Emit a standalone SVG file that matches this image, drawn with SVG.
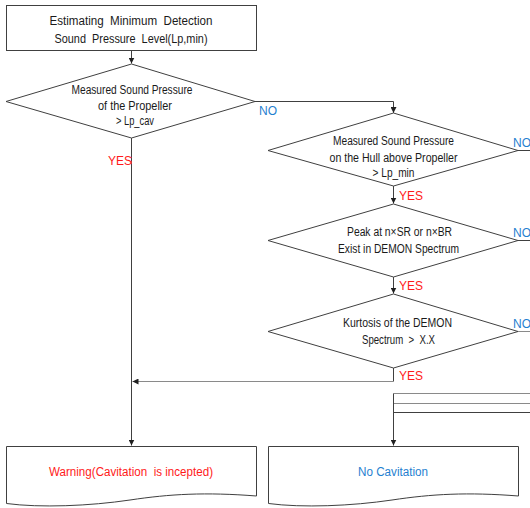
<svg xmlns="http://www.w3.org/2000/svg" width="530" height="508" viewBox="0 0 530 508">
<style>
.shape{fill:#fff;stroke:#404040;stroke-width:1}
.t{font-family:"Liberation Sans",Arial,sans-serif;font-size:12.5px;fill:#1a1a1a;text-anchor:middle;white-space:pre}
.lbl{font-family:"Liberation Sans",Arial,sans-serif;font-size:12px}
.no{fill:#1f7fd0}
.yes{fill:#ff1a1a}
.c{fill:none;stroke:#404040;stroke-width:1}
.cg{fill:none;stroke:#8a8a8a;stroke-width:1}
</style>
<defs>
<marker id="ah" markerUnits="userSpaceOnUse" markerWidth="7" markerHeight="6" refX="6" refY="3" orient="auto">
<path d="M0,0 L6,3 L0,6 Z" fill="#202020"/>
</marker>
</defs>
<g id="connectors">
<path class="c" d="M131.5,51 V63.5" marker-end="url(#ah)"/>
<path class="c" d="M255,101.5 H393.5 V113" marker-end="url(#ah)"/>
<path class="c" d="M131.5,138 V445.5" marker-end="url(#ah)"/>
<path class="c" d="M393.5,186 V203.5" marker-end="url(#ah)"/>
<path class="c" d="M393.5,277 V293.5" marker-end="url(#ah)"/>
<path class="c" d="M393.5,368 V381.5"/>
<path class="cg" d="M393.5,381.5 H132.5" marker-end="url(#ah)"/>
<path class="c" d="M518,150.5 H530"/>
<path class="c" d="M518,240.5 H530"/>
<path class="cg" d="M518,331.5 H530"/>
<path class="cg" d="M530,393.5 H393.5"/>
<path class="cg" d="M393.5,403.5 H530"/>
<path class="c" d="M393.5,412.5 H530"/>
<path class="c" d="M393.5,393.5 V445.5" marker-end="url(#ah)"/>
<text class="lbl no" x="259" y="115">NO</text>
<text class="lbl no" x="513" y="147">NO</text>
<text class="lbl no" x="513" y="237">NO</text>
<text class="lbl no" x="513" y="328">NO</text>
<text class="lbl yes" x="108" y="165">YES</text>
<text class="lbl yes" x="399" y="200">YES</text>
<text class="lbl yes" x="399" y="290">YES</text>
<text class="lbl yes" x="399" y="380">YES</text>
</g>
<g id="start">
<rect class="shape" x="6.5" y="5.5" width="250" height="45"/>
<text class="t" x="131" y="25" font-size="13.5" textLength="163" lengthAdjust="spacingAndGlyphs">Estimating  Minimum  Detection</text>
<text class="t" x="131" y="43" font-size="13.5" textLength="153" lengthAdjust="spacingAndGlyphs">Sound  Pressure  Level(Lp,min)</text>
</g>
<g id="d1">
<polygon class="shape" points="131.5,64 255,101.5 131.5,138 6,101.5"/>
<text class="t" x="132" y="94" textLength="121" lengthAdjust="spacingAndGlyphs">Measured Sound Pressure</text>
<text class="t" x="135" y="110" textLength="74" lengthAdjust="spacingAndGlyphs">of the Propeller</text>
<text class="t" x="135" y="125" textLength="38" lengthAdjust="spacingAndGlyphs">&gt; Lp_cav</text>
</g>
<g id="d2">
<polygon class="shape" points="393.5,113 518,150.5 393.5,186 268,150.5"/>
<text class="t" x="393.5" y="145" textLength="121" lengthAdjust="spacingAndGlyphs">Measured Sound Pressure</text>
<text class="t" x="393.5" y="162" textLength="128" lengthAdjust="spacingAndGlyphs">on the Hull above Propeller</text>
<text class="t" x="393.5" y="177" textLength="42" lengthAdjust="spacingAndGlyphs">&gt; Lp_min</text>
</g>
<g id="d3">
<polygon class="shape" points="393.5,204 518,240.5 393.5,277 268,240.5"/>
<text class="t" x="399.5" y="236" textLength="105" lengthAdjust="spacingAndGlyphs">Peak at n×SR or n×BR</text>
<text class="t" x="398.5" y="253" textLength="121" lengthAdjust="spacingAndGlyphs">Exist in DEMON Spectrum</text>
</g>
<g id="d4">
<polygon class="shape" points="393.5,294 518,331.5 393.5,368 268,331.5"/>
<text class="t" x="397.5" y="327" textLength="109" lengthAdjust="spacingAndGlyphs">Kurtosis of the DEMON</text>
<text class="t" x="398.5" y="344" textLength="73" lengthAdjust="spacingAndGlyphs">Spectrum  &gt;  X.X</text>
</g>
<g id="warning">
<path class="shape" d="M6.5,446.5 H256.5 V496 C205,492 170,494 130,500 C90,506 40,508 6.5,503.5 Z"/>
<text class="t yes" x="131" y="476" font-size="14" textLength="164" lengthAdjust="spacingAndGlyphs">Warning(Cavitation  is incepted)</text>
</g>
<g id="nocav">
<path class="shape" d="M268.5,446.5 H518.5 V496 C467,492 432,494 392,500 C352,506 302,508 268.5,503.5 Z"/>
<text class="t no" x="393" y="476" font-size="14" textLength="70" lengthAdjust="spacingAndGlyphs">No Cavitation</text>
</g>
</svg>
